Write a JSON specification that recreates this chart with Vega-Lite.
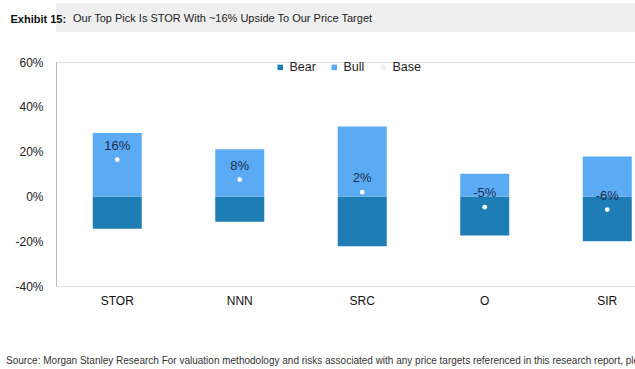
{
  "$schema": "https://vega.github.io/schema/vega-lite/v6.json",
  "background": "white",
  "padding": {"left": 5, "top": 3, "right": 0, "bottom": 0},
  "spacing": 23,
  "align": "none",
  "datasets": {
    "rows": [
      {"ticker": "STOR", "Bull": 28.3, "Bear": -14.4, "Base": 16.4, "label": "16%"},
      {"ticker": "NNN", "Bull": 21.1, "Bear": -11.3, "Base": 7.5, "label": "8%"},
      {"ticker": "SRC", "Bull": 31.2, "Bear": -22.2, "Base": 1.9, "label": "2%"},
      {"ticker": "O", "Bull": 10.1, "Bear": -17.5, "Base": -4.8, "label": "-5%"},
      {"ticker": "SIR", "Bull": 17.8, "Bear": -20.0, "Base": -5.9, "label": "-6%"}
    ]
  },
  "title": {
    "text": "Exhibit 15:",
    "anchor": "start",
    "frame": "bounds",
    "font": "Liberation Sans",
    "fontSize": 11,
    "fontWeight": "bold",
    "color": "#111111",
    "offset": -22,
    "dx": 5,
    "zindex": 1
  },
  "vconcat": [
    {
      "width": 630,
      "height": 29,
      "view": {"fill": "#efefef", "stroke": null},
      "data": {"values": [{"t": ""}]},
      "mark": {"type": "text"},
      "encoding": {"text": {"field": "t"}},
      "title": {
        "text": "Our Top Pick Is STOR With ~16% Upside To Our Price Target",
        "anchor": "start",
        "frame": "group",
        "orient": "top",
        "font": "Liberation Sans",
        "fontSize": 11,
        "fontWeight": "normal",
        "color": "#222222",
        "offset": -21,
        "dx": 17
      }
    },
    {
      "width": 612.5,
      "height": 224,
      "data": {"name": "rows"},
      "title": {
        "text": "Source: Morgan Stanley Research For valuation methodology and risks associated with any price targets referenced in this research report, please refer to the Disclosure Section",
        "orient": "bottom",
        "anchor": "start",
        "frame": "bounds",
        "font": "Liberation Sans",
        "fontSize": 10,
        "fontWeight": "normal",
        "color": "#333333",
        "offset": 50
      },
      "encoding": {
        "x": {
          "field": "ticker",
          "type": "nominal",
          "sort": ["STOR", "NNN", "SRC", "O", "SIR"],
          "scale": {"paddingInner": 0.6, "paddingOuter": 0.3},
          "axis": {
            "title": null,
            "domain": false,
            "ticks": false,
            "labelAngle": 0,
            "labelPadding": 9,
            "labelFont": "Liberation Sans",
            "labelFontSize": 12,
            "labelColor": "#111111"
          }
        }
      },
      "layer": [
        {
          "transform": [{"fold": ["Bear", "Bull"], "as": ["series", "value"]}],
          "mark": {"type": "bar"},
          "encoding": {
            "y": {
              "field": "value",
              "type": "quantitative",
              "scale": {"domain": [-40, 60], "nice": false},
              "axis": {
                "title": null,
                "values": [-40, -20, 0, 20, 40, 60],
                "labelExpr": "datum.value + '%'",
                "grid": false,
                "ticks": false,
                "domain": true,
                "domainColor": "#b8b8b8",
                "labelPadding": 13,
                "labelFont": "Liberation Sans",
                "labelFontSize": 12,
                "labelColor": "#222222",
                "minExtent": 50
              }
            },
            "y2": {"datum": 0},
            "color": {
              "field": "series",
              "type": "nominal",
              "scale": {"domain": ["Bear", "Bull", "Base"], "range": ["#1e7db4", "#5aabf4", "#f2f2f2"]},
              "legend": {
                "title": null,
                "orient": "none",
                "direction": "horizontal",
                "legendX": 218,
                "legendY": 58,
                "symbolType": "square",
                "symbolSize": 30,
                "symbolStrokeWidth": 0,
                "labelFont": "Liberation Sans",
                "labelFontSize": 12.5,
                "labelColor": "#222222",
                "labelOffset": 3,
                "columnPadding": 12
              }
            }
          }
        },
        {
          "mark": {"type": "rule", "color": "#b8b8b8", "strokeWidth": 1},
          "encoding": {"y": {"datum": 0}}
        },
        {
          "mark": {"type": "point", "shape": "circle", "filled": true, "color": "white", "size": 22, "opacity": 1},
          "encoding": {"y": {"field": "Base", "type": "quantitative"}}
        },
        {
          "mark": {"type": "text", "dy": -14, "font": "Liberation Sans", "fontSize": 13, "color": "#1c2a4a"},
          "encoding": {"y": {"field": "Base", "type": "quantitative"}, "text": {"field": "label"}}
        }
      ]
    }
  ]
}
